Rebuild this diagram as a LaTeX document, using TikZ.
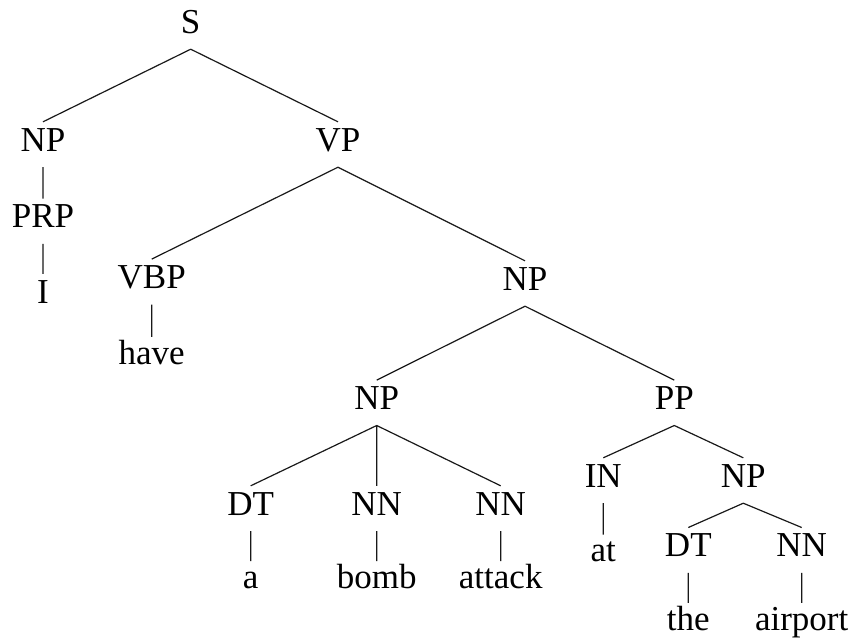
\documentclass[tikz,border=0pt]{standalone}
\usepackage{fontspec}
\setmainfont{Liberation Serif}
\begin{document}
\begin{tikzpicture}[x=1pt,y=-1pt,
  cat/.style={anchor=base,inner xsep=0pt,inner ysep=7pt,text height=22pt,text depth=9pt,font=\fontsize{35}{36}\selectfont},
  word/.style={cat,text height=20pt},
  edge/.style={draw=black!90,line width=1.2pt}]
\useasboundingbox (0,0) rectangle (851,641);
\node[cat] (S) at (190.7,33) {S};
\node[cat] (NPa) at (43,151) {NP};
\node[cat] (VP) at (338,151) {VP};
\node[cat] (PRP) at (43,227.7) {PRP};
\node[cat] (I) at (43,303) {I};
\node[cat] (VBP) at (151.7,288.3) {VBP};
\node[word] (have) at (151.7,364) {have};
\node[cat] (NPb) at (525,290) {NP};
\node[cat] (NPc) at (376.7,409.3) {NP};
\node[cat] (PP) at (674.3,409.3) {PP};
\node[cat] (DTa) at (250.7,515) {DT};
\node[cat] (NNa) at (376.7,515) {NN};
\node[cat] (NNb) at (500.7,515) {NN};
\node[word] (a) at (250.7,588.3) {a};
\node[word] (bomb) at (376.7,588.3) {bomb};
\node[word] (attack) at (500.7,588.3) {attack};
\node[cat] (IN) at (603.3,487) {IN};
\node[cat] (NPd) at (743.3,487) {NP};
\node[word] (at) at (603.3,561.7) {at};
\node[cat] (DTb) at (688.3,556.7) {DT};
\node[cat] (NNc) at (801.7,556.7) {NN};
\node[word] (the) at (688.3,630) {the};
\node[word] (airport) at (801.7,630) {airport};
\path[edge]
  (S.south) -- (NPa.north)
  (S.south) -- (VP.north)
  (NPa.south) -- (PRP.north)
  (PRP.south) -- (I.north)
  (VP.south) -- (VBP.north)
  (VP.south) -- (NPb.north)
  (VBP.south) -- (have.north)
  (NPb.south) -- (NPc.north)
  (NPb.south) -- (PP.north)
  (NPc.south) -- (DTa.north)
  (NPc.south) -- (NNa.north)
  (NPc.south) -- (NNb.north)
  (DTa.south) -- (a.north)
  (NNa.south) -- (bomb.north)
  (NNb.south) -- (attack.north)
  (PP.south) -- (IN.north)
  (PP.south) -- (NPd.north)
  (IN.south) -- (at.north)
  (NPd.south) -- (DTb.north)
  (NPd.south) -- (NNc.north)
  (DTb.south) -- (the.north)
  (NNc.south) -- (airport.north);
\end{tikzpicture}
\end{document}
